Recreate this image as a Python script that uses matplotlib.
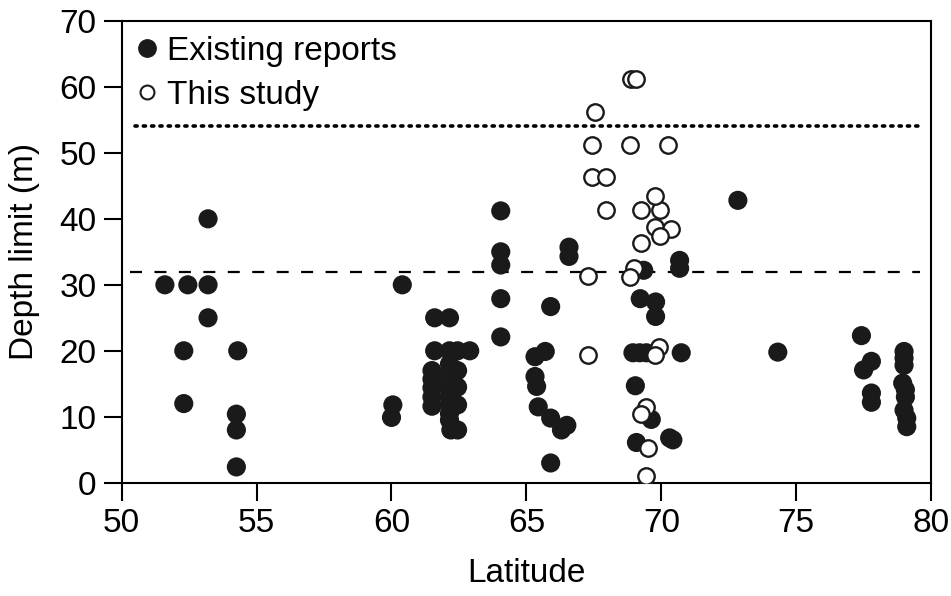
import matplotlib
matplotlib.use("Agg")
import matplotlib.pyplot as plt
from matplotlib.lines import Line2D

plt.rcParams['font.family'] = ['Liberation Sans', 'DejaVu Sans']

# existing reports (filled)
lat_existing = [51.6, 52.45, 53.2, 53.2, 53.2, 52.3, 52.3, 54.3, 54.25, 54.25, 54.25,
                60.4, 60.05, 60.0,
                61.5, 61.5, 61.5, 61.5, 61.5, 61.6, 61.6,
                62.15, 62.15, 62.15, 62.15, 62.15, 62.15, 62.15, 62.15, 62.15, 62.15, 62.2,
                62.45, 62.45, 62.45, 62.45, 62.45, 62.9,
                64.05, 64.05, 64.05, 64.05, 64.05,
                65.9, 65.7, 65.32, 65.32, 65.38, 65.44, 65.9, 66.3, 66.5, 65.9,
                66.58, 66.58,
                69.35, 70.68, 70.68, 69.22, 69.79, 69.79, 68.95, 69.2, 69.45, 70.74,
                69.04, 69.63, 69.08, 70.31, 70.43,
                72.84, 74.32,
                77.42, 77.79, 77.5, 77.79, 77.79,
                79.0, 79.0, 79.0, 78.95, 79.05, 79.05, 79.0, 79.1, 79.1]
depth_existing = [30, 30, 30, 40, 25, 20, 12, 20, 10.4, 8, 2.4,
                  30, 11.8, 9.9,
                  17, 15.7, 14.4, 13, 11.6, 20, 25,
                  25, 20, 18, 16.5, 15, 14, 13, 12, 10.5, 9.5, 8,
                  8, 11.8, 14.5, 17, 20, 20,
                  41.2, 35, 33, 27.9, 22.1,
                  26.7, 19.9, 19.1, 16.1, 14.6, 11.5, 9.8, 8.0, 8.7, 3.0,
                  35.7, 34.3,
                  32.2, 33.7, 32.5, 27.9, 27.4, 25.2, 19.7, 19.7, 19.7, 19.7,
                  14.7, 9.6, 6.1, 6.8, 6.5,
                  42.8, 19.8,
                  22.3, 18.4, 17.1, 13.6, 12.2,
                  19.9, 18.9, 17.8, 15.1, 14.1, 13.0, 11.0, 9.8, 8.5]

# this study (open)
lat_study = [68.89, 69.05, 67.54, 67.44, 68.83, 70.25, 67.44, 67.97, 67.97, 69.26,
             69.94, 69.75, 69.75, 70.37, 69.97, 69.26, 67.28, 69.0, 68.83,
             69.92, 69.75, 67.28, 69.45, 69.26, 69.51, 69.45]
depth_study = [61.2, 61.2, 56.2, 51.2, 51.2, 51.2, 46.3, 46.3, 41.3, 41.3,
               41.3, 43.5, 38.8, 38.5, 37.4, 36.3, 31.3, 32.5, 31.2,
               20.5, 19.4, 19.4, 11.5, 10.4, 5.2, 1.1]

dotted_limit = 54
dashed_limit = 32

fig = plt.figure(figsize=(9.51, 5.96), dpi=100)
ax = fig.add_axes([0.128, 0.190, 0.851, 0.775])

ax.scatter(lat_existing, depth_existing, s=190, c='#1a1a1a', edgecolors='none', zorder=3)
ax.scatter(lat_study, depth_study, s=140, facecolors='white', edgecolors='#1a1a1a',
           linewidths=1.7, zorder=4)

ax.plot([50.5, 79.7], [dotted_limit, dotted_limit], color='black', lw=2.6,
        linestyle=(0, (0.6, 1.7)), dash_capstyle='round', zorder=2)
ax.plot([50.3, 79.6], [dashed_limit, dashed_limit], color='black', lw=1.6,
        linestyle=(0, (5.4, 5.6)), zorder=2)

ax.set_xlim(50, 80)
ax.set_ylim(0, 70)
ax.set_xticks(range(50, 81, 5))
ax.set_yticks(range(0, 71, 10))
ax.tick_params(direction='out', length=13, width=1.5, labelsize=24, pad=5)
for sp in ax.spines.values():
    sp.set_linewidth(1.5)

ax.set_xlabel('Latitude', fontsize=24, labelpad=14)
ax.set_ylabel('Depth limit (m)', fontsize=24, labelpad=14)

handles = [Line2D([], [], marker='o', ls='none', markersize=12.5, markerfacecolor='#1a1a1a',
                  markeredgecolor='#1a1a1a'),
           Line2D([], [], marker='o', ls='none', markersize=10, markerfacecolor='white',
                  markeredgecolor='#1a1a1a', markeredgewidth=1.5)]
ax.legend(handles, ['Existing reports', 'This study'], loc='upper left',
          bbox_to_anchor=(0.0, 0.985), frameon=False, fontsize=24,
          handlelength=1.0, handletextpad=0.1, borderaxespad=0.0,
          labelspacing=0.39, borderpad=0.25)

fig.savefig('out.png', dpi=100)
